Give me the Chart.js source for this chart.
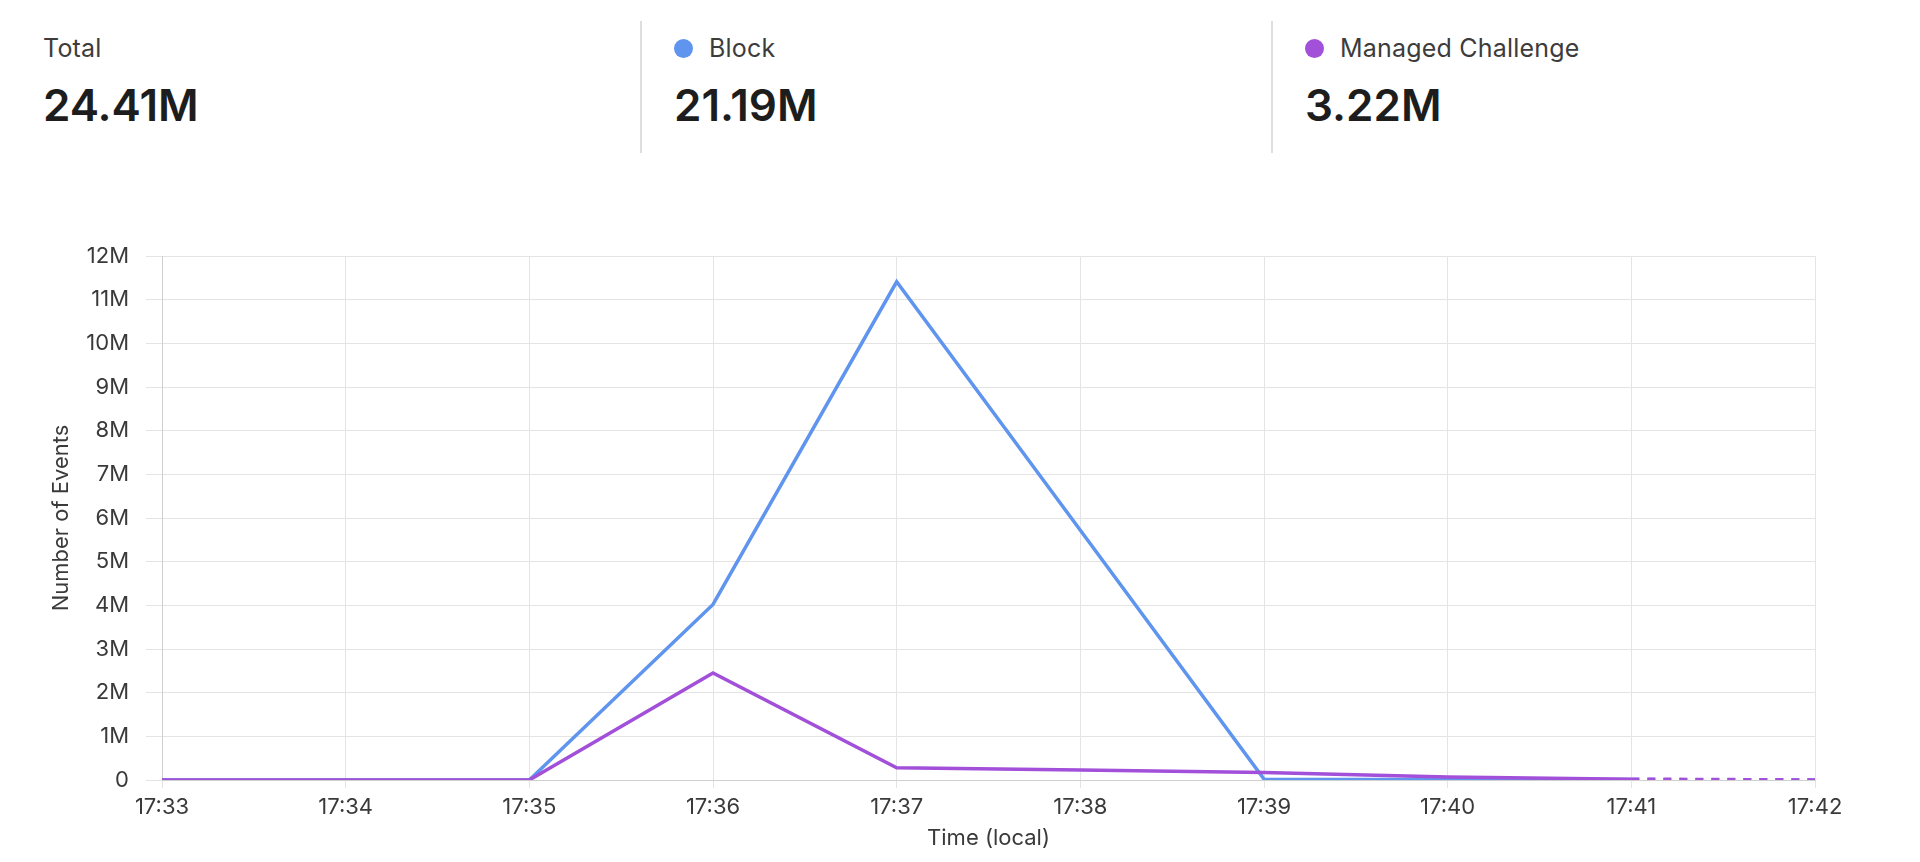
<!DOCTYPE html>
<html>
<head>
<meta charset="utf-8">
<title>Events</title>
<script src="https://cdn.jsdelivr.net/npm/chart.js@4.4.1/dist/chart.umd.min.js"></script>
<style>
  body { margin: 0; background: #fff; font-family: Inter, "Noto Sans", sans-serif; color: #222; }
  .stats { position: absolute; left: 9px; top: 21px; display: flex; }
  .stat { width: 631px; height: 132px; box-sizing: border-box; padding: 12px 0 0 32px; }
  .stat:first-child { padding-left: 34px; }
  .stat + .stat { border-left: 2px solid #dedede; }
  .stat .label { font-size: 25px; line-height: 30px; color: #3c3c3c; display: flex; align-items: center; letter-spacing: 0.2px; }
  .stat .dot { width: 19px; height: 19px; border-radius: 50%; margin-right: 16px; display: inline-block; }
  .stat .value { font-size: 44px; line-height: 53px; font-weight: 600; margin-top: 16px; color: #1d1d1d; }
  #chart-wrap { position: absolute; left: 0; top: 220px; width: 1920px; height: 642px; }
</style>
</head>
<body>
<div class="stats" id="stats"></div>
<div id="chart-wrap"><canvas id="chart" width="1920" height="642"></canvas></div>
<script>
const times = ['17:33', '17:34', '17:35', '17:36', '17:37', '17:38', '17:39', '17:40', '17:41', '17:42'];
// last point (17:42) is the incomplete minute, drawn dashed
const blockValues = [0, 0, 0, 4.02e6, 11.41e6, 5.72e6, 0.02e6, 0.01e6, 0.01e6, 0];
const challengeValues = [0, 0, 0, 2.45e6, 0.28e6, 0.23e6, 0.17e6, 0.07e6, 0.02e6, 0];
const yTicks = [0, 1e6, 2e6, 3e6, 4e6, 5e6, 6e6, 7e6, 8e6, 9e6, 10e6, 11e6, 12e6];

const blue = '#5f95ee';
const purple = '#a24fd9';

const summary = [
	{ label: 'Total', value: '24.41M', color: null },
	{ label: 'Block', value: '21.19M', color: blue },
	{ label: 'Managed Challenge', value: '3.22M', color: purple }
];

const statsEl = document.getElementById('stats');
summary.forEach(s => {
	const col = document.createElement('div');
	col.className = 'stat';
	const label = document.createElement('div');
	label.className = 'label';
	if (s.color) {
		const dot = document.createElement('span');
		dot.className = 'dot';
		dot.style.background = s.color;
		label.appendChild(dot);
	}
	label.appendChild(document.createTextNode(s.label));
	const val = document.createElement('div');
	val.className = 'value';
	val.textContent = s.value;
	col.appendChild(label); col.appendChild(val);
	statsEl.appendChild(col);
});

const lastIdx = times.length - 2;
const dashed = ctx => ctx.p0DataIndex >= lastIdx ? [8, 8] : undefined;

const tickFont = { family: 'Inter', size: 22 };

new Chart(document.getElementById('chart').getContext('2d'), {
	type: 'line',
	data: {
		labels: times,
		datasets: [
			{ label: 'Managed Challenge', data: challengeValues, borderColor: purple, borderWidth: 3.5, pointRadius: 0, tension: 0, order: 0, segment: { borderDash: dashed } },
			{ label: 'Block', data: blockValues, borderColor: blue, borderWidth: 3.5, pointRadius: 0, tension: 0, order: 1, segment: { borderDash: dashed } }
		]
	},
	options: {
		responsive: false,
		animation: false,
		layout: { padding: { top: 36, right: 105, bottom: 6, left: 44 } },
		plugins: { legend: { display: false }, tooltip: { enabled: false } },
		scales: {
			x: {
				grid: { color: '#e4e4e4', tickLength: 8 },
				border: { color: '#d0d0d0' },
				ticks: { font: tickFont, color: '#3a3a3a', padding: 6, maxRotation: 0, autoSkip: false },
				title: { display: true, text: 'Time (local)', font: tickFont, color: '#3a3a3a', padding: 4 },
				afterFit: axis => { axis.height = 76; }
			},
			y: {
				min: 0,
				max: 12e6,
				afterBuildTicks: axis => { axis.ticks = yTicks.map(v => ({ value: v })); },
				grid: { color: '#e4e4e4', tickLength: 16 },
				border: { color: '#cfcfcf' },
				ticks: {
					font: tickFont, color: '#3a3a3a', padding: 17,
					callback: v => v === 0 ? '0' : (v / 1e6) + 'M'
				},
				title: { display: true, text: 'Number of Events', font: tickFont, color: '#3a3a3a', padding: 4 },
				afterFit: axis => { axis.width = 118; }
			}
		}
	}
});
</script>
</body>
</html>
